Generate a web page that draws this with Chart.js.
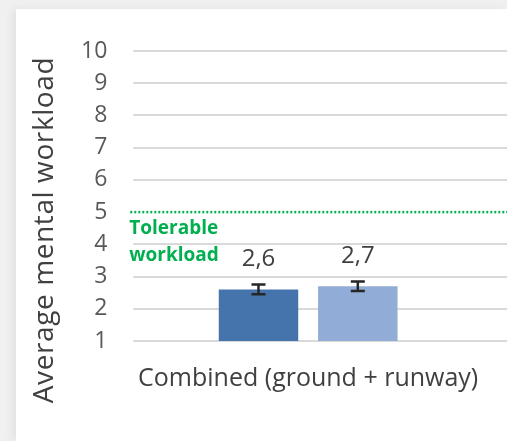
<!DOCTYPE html>
<html>
<head>
<meta charset="utf-8">
<script src="https://cdn.jsdelivr.net/npm/chart.js@4.4.1/dist/chart.umd.min.js"></script>
<style>
  html, body { margin: 0; padding: 0; background: #f0f0f0; overflow: hidden; }
  #wrap {
    position: absolute; left: 16px; top: 9px; width: 491px; height: 432px;
    background: #fff; box-shadow: -4px 0 8px rgba(0,0,0,0.06);
  }
</style>
</head>
<body>
<div id="wrap"><canvas id="workload" width="491" height="432"></canvas></div>
<script>
// data
const categories = ['Combined (ground + runway)'];
const darkValues = [2.6];
const lightValues = [2.7];
const darkErrors = [0.15];
const lightErrors = [0.15];
const yMin = 1;
const yMax = 10;
const tolerableLevel = 5;
const tolerableText = ['Tolerable', 'workload'];
const yTitle = 'Average mental workload';

const FONT = '"Open Sans", sans-serif';
const errorsByDataset = [darkErrors, lightErrors];

// error bars + value labels above each bar
const barExtras = {
  id: 'barExtras',
  afterDatasetsDraw(chart) {
    const ctx = chart.ctx;
    const y = chart.scales.y;
    chart.data.datasets.forEach((ds, di) => {
      chart.getDatasetMeta(di).data.forEach((bar, i) => {
        const v = ds.data[i];
        const e = errorsByDataset[di][i];
        const yHi = y.getPixelForValue(v + e);
        const yLo = y.getPixelForValue(v - e);
        ctx.save();
        ctx.strokeStyle = '#262626';
        ctx.lineWidth = 2.5;
        ctx.beginPath();
        ctx.moveTo(bar.x, yHi); ctx.lineTo(bar.x, yLo);
        ctx.moveTo(bar.x - 7, yHi); ctx.lineTo(bar.x + 7, yHi);
        ctx.moveTo(bar.x - 7, yLo); ctx.lineTo(bar.x + 7, yLo);
        ctx.stroke();
        ctx.fillStyle = '#404040';
        ctx.font = '24px ' + FONT;
        ctx.textAlign = 'center';
        ctx.textBaseline = 'middle';
        ctx.fillText(String(v).replace('.', ','), bar.x, bar.y - 30);
        ctx.restore();
      });
    });
  }
};

// gridlines (run on past the plot area), tolerable-workload line, y title
const extras = {
  id: 'extras',
  beforeDatasetsDraw(chart) {
    const ctx = chart.ctx;
    const y = chart.scales.y;
    const area = chart.chartArea;
    ctx.save();
    ctx.strokeStyle = '#d9d9d9';
    ctx.lineWidth = 2;
    y.ticks.forEach(t => {
      if (t.value === tolerableLevel) return;
      const py = Math.round(y.getPixelForValue(t.value));
      ctx.beginPath();
      ctx.moveTo(area.left, py); ctx.lineTo(chart.width, py);
      ctx.stroke();
    });
    const py = y.getPixelForValue(tolerableLevel);
    ctx.strokeStyle = '#00b050';
    ctx.lineWidth = 2.5;
    ctx.setLineDash([2, 2]);
    ctx.beginPath();
    ctx.moveTo(area.left - 3, py); ctx.lineTo(chart.width, py);
    ctx.stroke();
    ctx.setLineDash([]);
    ctx.fillStyle = '#00b050';
    ctx.font = 'bold 19px ' + FONT;
    ctx.textAlign = 'left';
    ctx.textBaseline = 'middle';
    ctx.fillText(tolerableText[0], area.left - 4, py + 16);
    ctx.fillText(tolerableText[1], area.left - 4, py + 43);

    // axis title, centred on the whole chart height like the original
    const midY = (area.top + chart.scales.x.bottom) / 2 - 4;
    ctx.translate(29, midY);
    ctx.rotate(-Math.PI / 2);
    ctx.fillStyle = '#404040';
    ctx.font = '28px ' + FONT;
    ctx.letterSpacing = '0.6px';
    ctx.textAlign = 'center';
    ctx.fillText(yTitle, 0, 0);
    ctx.restore();
  }
};

const ctx = document.getElementById('workload').getContext('2d');
const workloadChart = new Chart(ctx, {
  type: 'bar',
  data: {
    labels: categories,
    datasets: [
      {
        label: 'Dark',
        data: darkValues,
        backgroundColor: '#4574ac',
        categoryPercentage: 0.568,
        barPercentage: 0.8
      },
      {
        label: 'Light',
        data: lightValues,
        backgroundColor: '#91acd6',
        categoryPercentage: 0.568,
        barPercentage: 0.8
      }
    ]
  },
  options: {
    responsive: false,
    animation: false,
    layout: {
      padding: { left: 39, top: 42, right: 24, bottom: 24 }
    },
    plugins: {
      legend: { display: false },
      tooltip: { enabled: false }
    },
    scales: {
      x: {
        grid: { display: false, drawTicks: false },
        border: { display: false },
        ticks: {
          color: '#404040',
          font: { family: FONT, size: 25 },
          padding: 23,
          maxRotation: 0
        },
        afterFit(scale) {
          scale.paddingLeft = 0;
          scale.paddingRight = 0;
        }
      },
      y: {
        min: yMin,
        max: yMax,
        ticks: {
          stepSize: 1,
          color: '#595959',
          font: { family: FONT, size: 23 },
          padding: 26
        },
        grid: { display: false, drawTicks: false },
        border: { display: false }
      }
    }
  },
  plugins: [extras, barExtras]
});
</script>
</body>
</html>
